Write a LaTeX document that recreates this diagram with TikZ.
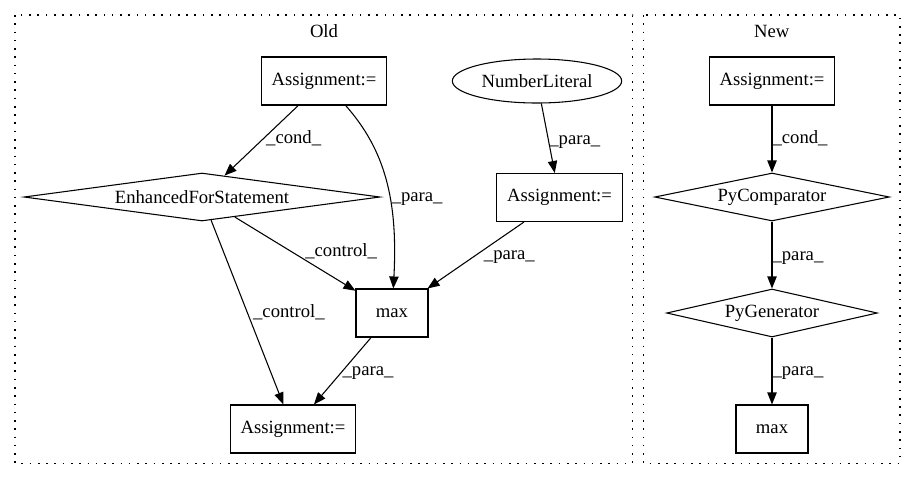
\documentclass[tikz,border=0pt]{standalone}
\usepackage{fontspec}
\setmainfont{Liberation Serif}
\usetikzlibrary{arrows.meta,shapes}

\begin{document}
\begin{tikzpicture}[x=0.75pt, y=-0.75pt, >={Triangle[length=9pt,width=7pt]}, font=\fontsize{14}{17}\selectfont]

\tikzset{
    assign/.style={rectangle, draw, line width=0.8pt, minimum width=94pt, minimum height=36pt, inner sep=0pt},
    fun/.style={rectangle, draw, line width=0.8pt, minimum width=54pt, minimum height=36pt, inner sep=0pt},
    cmp/.style={diamond, draw, line width=0.8pt, aspect=7, inner sep=0pt, minimum height=36pt},
    lit/.style={ellipse, draw, line width=0.8pt, minimum width=127pt, minimum height=33pt, inner sep=0pt},
    flow/.style={->, line width=0.8pt},
    lbl/.style={inner sep=1pt},
    cluster/.style={draw, line width=0.9pt, dash pattern=on 1.2pt off 5pt}
}

\useasboundingbox (0,0) rectangle (916,480);

% clusters
\draw[cluster] (15,15) rectangle (632.7,463.3);
\draw[cluster] (643.3,15) rectangle (900,463.3);
\node (old) at (324,31) {Old};
\node (new) at (771.7,31) {New};

% old
\node[assign] (a1) at (324,81) {Assignment:=};
\node[lit] (num) at (537,81) {NumberLiteral};
\node[cmp, minimum width=267pt] (efs) at (202,197) {EnhancedForStatement};
\node[assign] (a2) at (559.5,197.5) {Assignment:=};
\node[fun] (max1) at (392,313) {max};
\node[assign] (a3) at (293,429) {Assignment:=};

% new
\node[assign] (b1) at (772,81) {Assignment:=};
\node[cmp, minimum width=176pt] (pc) at (772,197) {PyComparator};
\node[cmp, minimum width=158pt] (pg) at (772,313) {PyGenerator};
\node[fun] (max2) at (772,429) {max};

\draw[flow] (a1) -- node[lbl, right, pos=0.46] {\_cond\_} (efs);
\draw[flow] (a1) .. controls (385,150) and (398,200) .. node[lbl, right, pos=0.6] {\_para\_} (max1);
\draw[flow] (num) -- node[lbl, right, pos=0.56, inner sep=0pt] {\_para\_} (a2);
\draw[flow] (efs) -- node[lbl, above right, pos=0.58, inner sep=0pt] {\_control\_} (max1);
\draw[flow] (efs) -- node[lbl, right, pos=0.5, inner sep=4pt] {\_control\_} (a3);
\draw[flow] (a2) -- node[lbl, below right, pos=0.42, inner sep=0pt] {\_para\_} (max1);
\draw[flow] (max1) -- node[lbl, right, pos=0.53] {\_para\_} (a3);

\draw[flow] (b1) -- node[lbl, right, pos=0.49, inner sep=0pt] {\_cond\_} (pc);
\draw[flow] (pc) -- node[lbl, right, pos=0.54, inner sep=0pt] {\_para\_} (pg);
\draw[flow] (pg) -- node[lbl, right, pos=0.53, inner sep=0pt] {\_para\_} (max2);
\end{tikzpicture}
\end{document}
